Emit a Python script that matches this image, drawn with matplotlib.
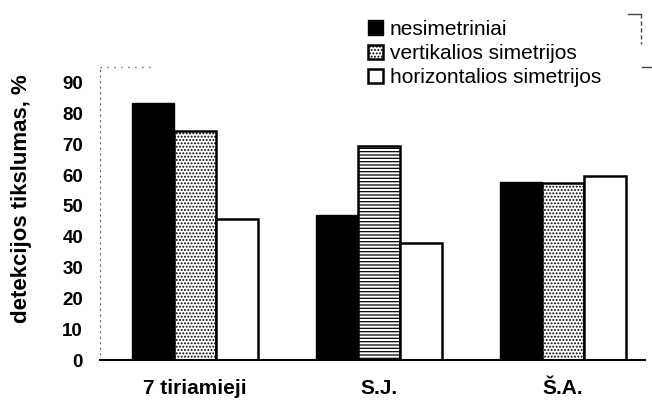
import matplotlib.pyplot as plt
from matplotlib.lines import Line2D
import numpy as np

plt.rcParams['font.family'] = ['Liberation Sans', 'DejaVu Sans']
plt.rcParams['hatch.linewidth'] = 0.9

groups = ['7 tiriamieji', 'S.J.', 'Š.A.']
series = ['nesimetriniai', 'vertikalios simetrijos', 'horizontalios simetrijos']
nesim = [83.5, 47, 57.8]
vert = [74.4, 69.5, 57.5]
horiz = [45.7, 38, 59.7]
vert_hatch = ['.....', '-----', '.....']

fig = plt.figure(figsize=(6.52, 4.05), dpi=100)
ax = fig.add_axes([0.153, 0.111, 0.836, 0.724])

x = np.arange(len(groups))
w = 0.228
ax.bar(x - w, nesim, w, color='black', edgecolor='black', label=series[0])
bars = ax.bar(x, vert, w, color='white', edgecolor='black', linewidth=1.8, label=series[1])
for b, h in zip(bars, vert_hatch):
    b.set_hatch(h)
ax.bar(x + w, horiz, w, color='white', edgecolor='black', linewidth=1.8, label=series[2])

ax.set_xlim(-0.516, 2.446)
ax.set_ylim(0, 95.1)
ax.set_yticks(range(0, 100, 10))
ax.set_xticks(x)
ax.set_xticklabels(groups, fontsize=15, fontweight='bold')
for t in ax.get_yticklabels():
    t.set_fontsize(13.5)
    t.set_fontweight('bold')
ax.tick_params(length=0)
ax.tick_params(axis='y', pad=12)
ax.tick_params(axis='x', pad=14)

ax.spines['top'].set_visible(False)
ax.spines['right'].set_visible(False)
ax.spines['left'].set_linestyle((0, (1, 4)))
ax.spines['left'].set_color('#666666')
ax.spines['bottom'].set_linewidth(1.5)

# short dotted piece of the frame top, as in the scan
ax.plot([0, 0.1], [1, 1], transform=ax.transAxes, color='#666666',
        linestyle=(0, (1, 4)), linewidth=1, clip_on=False)

ax.set_ylabel('detekcijos tikslumas, %', fontsize=16, fontweight='bold')
ax.yaxis.set_label_coords(-0.125, 0.551)

fig.legend(loc='upper left', bbox_to_anchor=(368 / 652, 1 - 20 / 405), frameon=False,
           fontsize=15, handlelength=0.7, handleheight=0.7, handletextpad=0.35,
           labelspacing=0.25, borderpad=0, borderaxespad=0)

# bracket mark at top right corner
for xs, ys in [([628, 641], [14, 14]), ([641, 641], [14, 44]), ([642, 652], [67, 67])]:
    fig.add_artist(Line2D([v / 652 for v in xs], [1 - v / 405 for v in ys],
                          color='#444444', linewidth=1,
                          linestyle=(0, (3, 2)) if xs[0] == xs[1] else '-'))

fig.savefig('out.png', dpi=100)
